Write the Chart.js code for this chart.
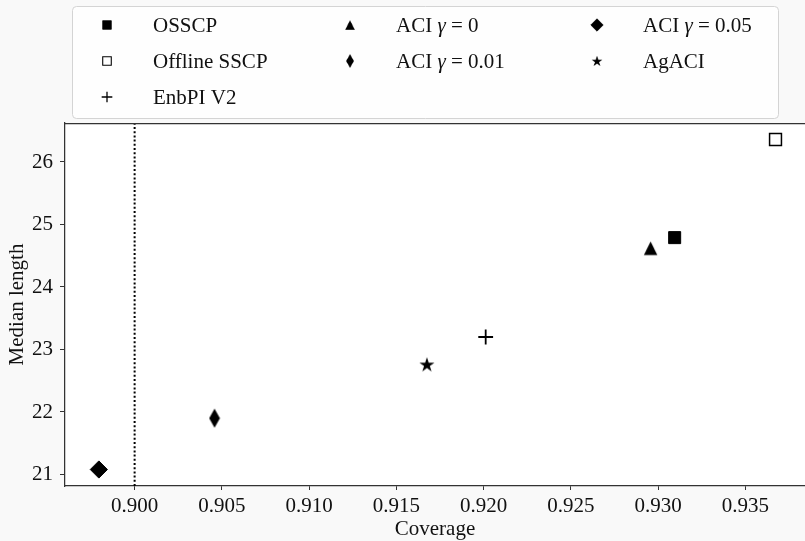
<!DOCTYPE html>
<html>
<head>
<meta charset="utf-8">
<script src="https://cdn.jsdelivr.net/npm/chart.js"></script>
<style>
  html, body { margin: 0; padding: 0; background: #f9f9f9; }
  #wrap { width: 805px; height: 541px; }
</style>
</head>
<body>
<div id="wrap"><canvas id="scatterChart" width="805" height="541"></canvas></div>
<script>
// methods, in legend order (matplotlib fills the 3 columns top to bottom)
const methods = ['OSSCP', 'Offline SSCP', 'EnbPI V2', 'ACI γ = 0', 'ACI γ = 0.01', 'ACI γ = 0.05', 'AgACI'];
const coverage = [0.93095, 0.93673, 0.92012, 0.92957, 0.90458, 0.89795, 0.91675];
const medianLength = [24.79, 26.36, 23.20, 24.62, 21.90, 21.08, 22.76];
const targetCoverage = 0.9;
const xTicks = [0.900, 0.905, 0.910, 0.915, 0.920, 0.925, 0.930, 0.935];
const yTicks = [21, 22, 23, 24, 25, 26];
const xRange = [0.89601, 0.93842];
const yRange = [20.816, 26.624];

const FAMILY = '"Liberation Serif", "Times New Roman", serif';
const FSIZE = 21;
const TEXT = '#111';
const SPINE = '#333';

// custom marker shapes (matplotlib-like)
function makeMarker(w, h, draw) {
    var c = document.createElement('canvas');
    c.width = w; c.height = h;
    var g = c.getContext('2d');
    g.fillStyle = '#000';
    draw(g, w, h);
    return c;
}
var triangleMk = makeMarker(15, 15, function (g) {
    g.beginPath(); g.moveTo(7.5, 0.8); g.lineTo(14.2, 14.2); g.lineTo(0.8, 14.2); g.closePath(); g.fill();
});
var thinDiamondMk = makeMarker(12, 20, function (g) {
    g.beginPath(); g.moveTo(6, 0.6); g.lineTo(11.4, 10); g.lineTo(6, 19.4); g.lineTo(0.6, 10); g.closePath(); g.fill();
});
var starMk = makeMarker(18, 18, function (g) {
    g.beginPath();
    for (var k = 0; k < 10; k++) {
        var r = k % 2 === 0 ? 7.9 : 7.9 * 0.382;
        var a = -Math.PI / 2 + k * Math.PI / 5;
        var px = 9 + r * Math.cos(a), py = 9.6 + r * Math.sin(a);
        if (k === 0) g.moveTo(px, py); else g.lineTo(px, py);
    }
    g.closePath(); g.fill();
});

const markerStyles = [
    { pointStyle: 'rect', radius: 8.5, bg: '#000', border: '#000', bw: 1 },
    { pointStyle: 'rect', radius: 8.4, bg: '#fff', border: '#000', bw: 1.5 },
    { pointStyle: 'cross', radius: 7.4, bg: '#000', border: '#000', bw: 1.8 },
    { pointStyle: triangleMk, radius: 8, bg: '#000', border: '#000', bw: 0 },
    { pointStyle: thinDiamondMk, radius: 8, bg: '#000', border: '#000', bw: 0 },
    { pointStyle: 'rectRot', radius: 8.6, bg: '#000', border: '#000', bw: 1 },
    { pointStyle: starMk, radius: 8, bg: '#000', border: '#000', bw: 0 }
];

var datasets = methods.map(function (name, i) {
    var st = markerStyles[i];
    return {
        label: name,
        data: [{ x: coverage[i], y: medianLength[i] }],
        pointStyle: st.pointStyle,
        pointRadius: st.radius,
        pointHoverRadius: st.radius,
        backgroundColor: st.bg,
        borderColor: st.border,
        borderWidth: st.bw,
        legendMarker: true
    };
});
// dotted target coverage line
datasets.push({
    label: 'target',
    data: [{ x: targetCoverage, y: yRange[0] }, { x: targetCoverage, y: yRange[1] }],
    showLine: true,
    pointRadius: 0,
    borderColor: '#000',
    borderWidth: 2,
    borderDash: [2, 2.2],
    clip: false
});

const bgPlugin = {
    id: 'bg',
    beforeDraw: function (chart) {
        var ctx = chart.ctx, a = chart.chartArea;
        ctx.save();
        ctx.fillStyle = '#f9f9f9';
        ctx.fillRect(0, 0, chart.width, chart.height);
        ctx.fillStyle = '#fff';
        ctx.fillRect(a.left, a.top, a.right - a.left, a.bottom - a.top);
        ctx.restore();
    },
    afterDraw: function (chart) {
        var ctx = chart.ctx, a = chart.chartArea;
        ctx.save();
        ctx.strokeStyle = SPINE;
        ctx.lineWidth = 1.25;
        ctx.beginPath();
        ctx.moveTo(a.left, a.top + 0.5);
        ctx.lineTo(a.right, a.top + 0.5);
        ctx.stroke();
        ctx.restore();
    }
};

function drawLabel(ctx, text, x, y) {
    var parts = text.split('γ');
    var font = FSIZE + 'px ' + FAMILY;
    ctx.font = font;
    ctx.fillText(parts[0], x, y);
    if (parts.length > 1) {
        var w = ctx.measureText(parts[0]).width;
        ctx.font = 'italic ' + font;
        ctx.fillText('γ', x + w, y);
        w += ctx.measureText('γ').width;
        ctx.font = font;
        ctx.fillText(parts[1], x + w, y);
    }
}

const legendPlugin = {
    id: 'gridLegend',
    afterDraw: function (chart) {
        var ctx = chart.ctx;
        var box = { l: 72.5, t: 6.5, r: 778.5, b: 118.5, rad: 4 };
        var colX = [[107, 153], [350, 396], [597, 643]];
        var colStart = [0, 3, 5];
        var rowY = [25, 61, 97];
        ctx.save();
        ctx.beginPath();
        ctx.moveTo(box.l + box.rad, box.t);
        ctx.arcTo(box.r, box.t, box.r, box.b, box.rad);
        ctx.arcTo(box.r, box.b, box.l, box.b, box.rad);
        ctx.arcTo(box.l, box.b, box.l, box.t, box.rad);
        ctx.arcTo(box.l, box.t, box.r, box.t, box.rad);
        ctx.closePath();
        ctx.fillStyle = 'rgba(255,255,255,0.85)';
        ctx.fill();
        ctx.strokeStyle = '#d4d4d4';
        ctx.lineWidth = 1;
        ctx.stroke();

        var items = chart.data.datasets.filter(function (d) { return d.legendMarker; });
        items.forEach(function (ds, i) {
            var col = i >= colStart[2] ? 2 : (i >= colStart[1] ? 1 : 0);
            var row = i - colStart[col];
            var mx = colX[col][0], ty = rowY[row];
            ctx.save();
            ctx.translate(mx, ty);
            ctx.scale(0.72, 0.72);
            ctx.fillStyle = ds.backgroundColor;
            ctx.strokeStyle = ds.borderColor;
            ctx.lineWidth = ds.borderWidth;
            Chart.helpers.drawPoint(ctx, {
                pointStyle: ds.pointStyle, radius: ds.pointRadius, rotation: 0, borderWidth: ds.borderWidth
            }, 0, 0);
            ctx.restore();
            ctx.fillStyle = TEXT;
            ctx.textBaseline = 'middle';
            ctx.textAlign = 'left';
            drawLabel(ctx, ds.label, colX[col][1], ty + 1);
        });
        ctx.restore();
    }
};

var ctxS = document.getElementById('scatterChart').getContext('2d');
new Chart(ctxS, {
    type: 'scatter',
    data: { datasets: datasets },
    plugins: [bgPlugin, legendPlugin],
    options: {
        responsive: false,
        animation: false,
        devicePixelRatio: 1,
        layout: { autoPadding: false, padding: { top: 123, right: 0, bottom: 0, left: 0 } },
        plugins: { legend: { display: false }, tooltip: { enabled: false } },
        scales: {
            x: {
                type: 'linear',
                min: xRange[0],
                max: xRange[1],
                afterBuildTicks: function (s) { s.ticks = xTicks.map(function (v) { return { value: v }; }); },
                afterFit: function (s) { s.height = 55; s.paddingLeft = 0; s.paddingRight = 0; },
                ticks: {
                    callback: function (v) { return Number(v).toFixed(3); },
                    color: TEXT, font: { family: FAMILY, size: FSIZE, lineHeight: 1 },
                    padding: 6, maxRotation: 0, autoSkip: false
                },
                grid: { drawOnChartArea: false, drawTicks: true, tickLength: 4, tickColor: SPINE, tickWidth: 1 },
                border: { display: true, color: SPINE, width: 1.25 },
                title: {
                    display: true, text: 'Coverage', color: TEXT,
                    font: { family: FAMILY, size: FSIZE, lineHeight: 1 },
                    padding: { top: 0, bottom: 1 }
                }
            },
            y: {
                type: 'linear',
                min: yRange[0],
                max: yRange[1],
                afterBuildTicks: function (s) { s.ticks = yTicks.map(function (v) { return { value: v }; }); },
                afterFit: function (s) { s.width = 65; s.paddingTop = 0; s.paddingBottom = 0; },
                ticks: {
                    callback: function (v) { return String(v); },
                    color: TEXT, font: { family: FAMILY, size: FSIZE, lineHeight: 1 },
                    padding: 7
                },
                grid: { drawOnChartArea: false, drawTicks: true, tickLength: 5, tickColor: SPINE, tickWidth: 1 },
                border: { display: true, color: SPINE, width: 1.25 },
                title: {
                    display: true, text: 'Median length', color: TEXT,
                    font: { family: FAMILY, size: FSIZE, lineHeight: 1 },
                    padding: { top: 6.5, bottom: 0 }
                }
            }
        }
    }
});
</script>
</body>
</html>
